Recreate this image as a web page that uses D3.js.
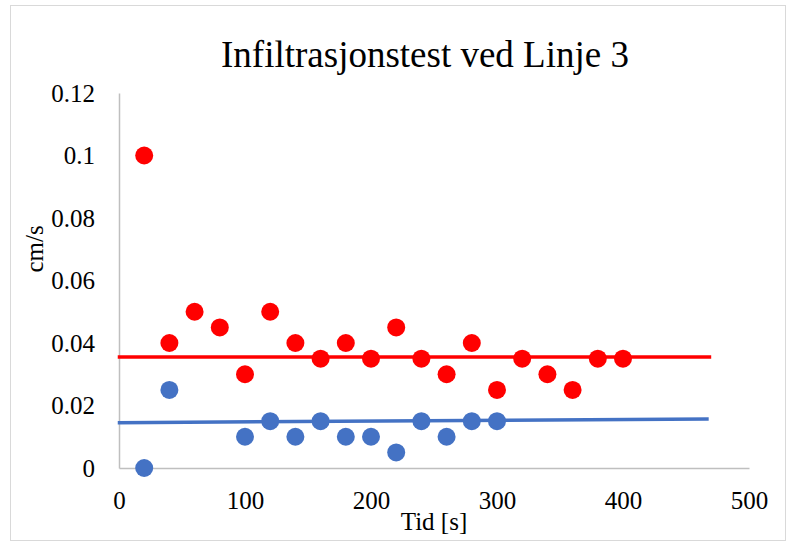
<!DOCTYPE html>
<html>
<head>
<meta charset="utf-8">
<script src="https://cdn.jsdelivr.net/npm/d3@7/dist/d3.min.js"></script>
<style>
  html, body { margin: 0; padding: 0; background: #fff; }
  svg { display: block; }
</style>
</head>
<body>
<svg id="chart" width="790" height="542"></svg>
<script>
// Measurement times [s] and infiltration rates [cm/s]
const redTimes  = [20, 40, 60, 80, 100, 120, 140, 160, 180, 200, 220, 240, 260, 280, 300, 320, 340, 360, 380, 400];
const redValues = [0.1, 0.04, 0.05, 0.045, 0.03, 0.05, 0.04, 0.035, 0.04, 0.035, 0.045, 0.035, 0.03, 0.04, 0.025, 0.035, 0.03, 0.025, 0.035, 0.035];

const blueTimes  = [20, 40, 100, 120, 140, 160, 180, 200, 220, 240, 260, 280, 300];
const blueValues = [0, 0.025, 0.01, 0.015, 0.01, 0.015, 0.01, 0.01, 0.005, 0.015, 0.01, 0.015, 0.015];

// Reference lines (start/end time, start/end rate)
const redLineTimes   = [-1, 470];
const redLineValues  = [0.0355, 0.0355];
const blueLineTimes  = [-1, 468];
const blueLineValues = [0.0145, 0.0157];

// Axis ticks
const xTicks = [0, 100, 200, 300, 400, 500];
const yTicks = [0, 0.02, 0.04, 0.06, 0.08, 0.1, 0.12];

const titleText = "Infiltrasjonstest ved Linje 3";
const xTitle = "Tid [s]";
const yTitle = "cm/s";

const SERIF = "Liberation Serif";

const svg = d3.select("#chart")
  .attr("font-family", SERIF);

// outer frame
svg.append("rect")
  .attr("x", 10.5).attr("y", 5.5)
  .attr("width", 775).attr("height", 535)
  .attr("fill", "#fff")
  .attr("stroke", "#d9d9d9").attr("stroke-width", 1);

const x = d3.scaleLinear().domain([0, 500]).range([119, 749]);
const y = d3.scaleLinear().domain([0, 0.12]).range([468, 93]);

// axes
const xAxis = d3.axisBottom(x).tickValues(xTicks).tickSize(0).tickPadding(0).tickFormat(d3.format("d"));
const yAxis = d3.axisLeft(y).tickValues(yTicks).tickSize(0).tickFormat(d => d === 0 ? "0" : String(+d.toFixed(2)));

const gx = svg.append("g").attr("transform", `translate(0,${y(0)})`).call(xAxis)
  .attr("font-family", SERIF).attr("font-size", 25);
gx.select(".domain").attr("stroke", "#bfbfbf").attr("stroke-width", 1.5);
gx.selectAll("text").attr("dy", null).attr("y", 41).attr("fill", "#000");

const gy = svg.append("g").attr("transform", `translate(${x(0)},0)`).call(yAxis)
  .attr("font-family", SERIF).attr("font-size", 25);
gy.select(".domain").attr("stroke", "#bfbfbf").attr("stroke-width", 1.5);
gy.selectAll("text").attr("x", -24).attr("dy", "0.33em").attr("fill", "#000");

// reference lines
const line = d3.line().x(d => x(d[0])).y(d => y(d[1]));
svg.append("path")
  .datum(redLineTimes.map((t, i) => [t, redLineValues[i]]))
  .attr("d", line).attr("fill", "none")
  .attr("stroke", "#ff0000").attr("stroke-width", 3.5);
svg.append("path")
  .datum(blueLineTimes.map((t, i) => [t, blueLineValues[i]]))
  .attr("d", line).attr("fill", "none")
  .attr("stroke", "#4472c4").attr("stroke-width", 3.5);

// markers
svg.append("g").selectAll("circle")
  .data(redTimes.map((t, i) => [t, redValues[i]]))
  .join("circle")
  .attr("cx", d => x(d[0])).attr("cy", d => y(d[1]))
  .attr("r", 9).attr("fill", "#ff0000");

svg.append("g").selectAll("circle")
  .data(blueTimes.map((t, i) => [t, blueValues[i]]))
  .join("circle")
  .attr("cx", d => x(d[0])).attr("cy", d => y(d[1]))
  .attr("r", 9).attr("fill", "#4472c4");

// titles
svg.append("text")
  .attr("x", 425).attr("y", 67)
  .attr("text-anchor", "middle")
  .attr("font-size", 37)
  .text(titleText);

svg.append("text")
  .attr("x", 434).attr("y", 530)
  .attr("text-anchor", "middle")
  .attr("font-size", 25)
  .text(xTitle);

svg.append("text")
  .attr("transform", "translate(43,249) rotate(-90)")
  .attr("text-anchor", "middle")
  .attr("font-size", 25)
  .text(yTitle);
</script>
</body>
</html>
